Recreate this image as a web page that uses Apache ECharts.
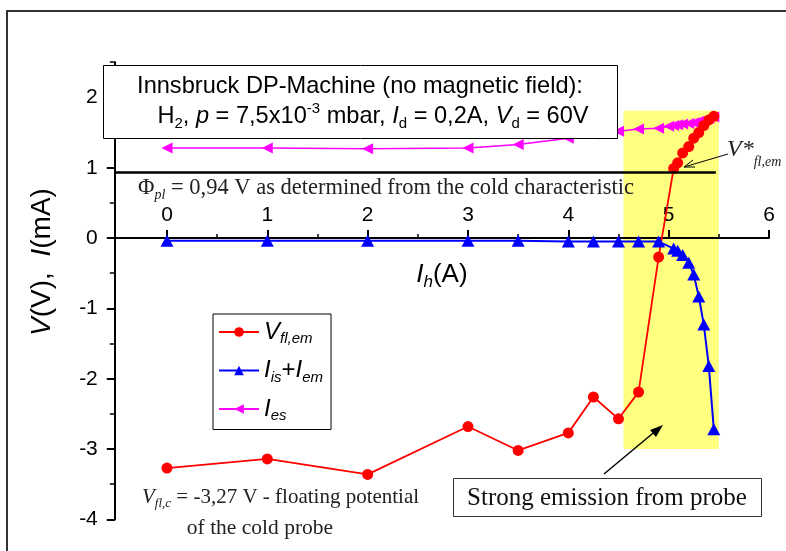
<!DOCTYPE html>
<html><head><meta charset="utf-8">
<script src="https://cdn.jsdelivr.net/npm/echarts@6/dist/echarts.min.js"></script>
<style>html,body{margin:0;padding:0;background:#fff}#c{width:786px;height:551px}</style>
</head><body><div id="c"></div>
<script>
// ---- data ----
const vflX = [0, 1, 2, 3, 3.5, 4, 4.25, 4.5, 4.7, 4.9, 5.05, 5.09, 5.14, 5.2, 5.25, 5.3, 5.35, 5.4, 5.45];
const vflY = [-3.27, -3.14, -3.36, -2.68, -3.02, -2.77, -2.26, -2.57, -2.19, -0.27, 0.99, 1.07, 1.21, 1.30, 1.42, 1.50, 1.60, 1.68, 1.73];
const iisX = [0, 1, 2, 3, 3.5, 4, 4.25, 4.5, 4.7, 4.9, 5.05, 5.09, 5.14, 5.2, 5.25, 5.3, 5.35, 5.4, 5.45];
const iisY = [-0.04, -0.04, -0.04, -0.04, -0.04, -0.05, -0.05, -0.05, -0.05, -0.05, -0.15, -0.18, -0.24, -0.35, -0.52, -0.83, -1.23, -1.82, -2.72];
const iesX = [0, 1, 2, 3, 3.5, 4, 4.25, 4.5, 4.7, 4.9, 5.0, 5.05, 5.09, 5.14, 5.2, 5.25, 5.3, 5.35, 5.4, 5.45];
const iesY = [1.28, 1.28, 1.27, 1.28, 1.33, 1.42, 1.48, 1.52, 1.55, 1.56, 1.59, 1.60, 1.61, 1.62, 1.63, 1.64, 1.66, 1.68, 1.70, 1.72];
const xTicks = [0, 1, 2, 3, 4, 5, 6];
const xMinorTicks = [0.5, 1.5, 2.5, 3.5, 4.5, 5.5];
const yTicks = [-4, -3, -2, -1, 0, 1, 2];
const yMinorTicks = [-3.5, -2.5, -1.5, -0.5, 0.5, 1.5, 2.5];
const xRange = [-0.52, 6];
const yRange = [-4, 2.5];
const phiPl = 0.94;
const phiLineX = [-0.52, 5.47];
const bandX = [4.55, 5.5];
const bandY = [-3.0, 1.81];

const zip = (a, b) => a.map((v, i) => [v, b[i]]);
const SANS = 'Liberation Sans, Arial, sans-serif';
const SERIF = 'Liberation Serif, Times New Roman, serif';

const chart = echarts.init(document.getElementById('c'), null, {renderer: 'canvas'});

const legendRich = {
  i: {fontFamily: SANS, fontStyle: 'italic', fontSize: 24, color: '#000'},
  s: {fontFamily: SANS, fontStyle: 'italic', fontSize: 15, color: '#000', padding: [14, 0, 0, 0]},
  n: {fontFamily: SANS, fontSize: 24, color: '#000'}
};
const legendNames = {
  Vfl: '{i|V}{s|fl,em}',
  Iis: '{i|I}{s|is}{n|+}{i|I}{s|em}',
  Ies: '{i|I}{s|es}'
};

const leftTri = 'path://M0,5 L10,0 L10,10 Z';

// layout of plot area (pixels)
const G = {left: 114.8, top: 62.2, width: 654.2, height: 457.2};
const pxPerY = G.height / (yRange[1] - yRange[0]);

const option = {
  animation: false,
  backgroundColor: '#fff',
  grid: [
    {left: G.left, top: G.top, width: G.width, height: G.height, outerBoundsMode: 'none', containLabel: false},
    {left: G.left, top: G.top, width: G.width, height: yRange[1] * pxPerY, outerBoundsMode: 'none', containLabel: false}
  ],
  xAxis: [{
    gridIndex: 0, type: 'value', min: xRange[0], max: xRange[1], show: false
  }, {
    gridIndex: 1, type: 'value', min: xRange[0], max: xRange[1], z: 3, position: 'bottom',
    axisLine: {show: false, onZero: false},
    axisTick: {show: true, inside: true, length: 4, customValues: xMinorTicks, lineStyle: {color: '#000', width: 1.5}},
    axisLabel: {show: false},
    splitLine: {show: false}
  }, {
    gridIndex: 1, type: 'value', min: xRange[0], max: xRange[1], z: 3, position: 'bottom',
    axisLine: {show: true, onZero: false, lineStyle: {color: '#000', width: 2}},
    axisTick: {show: true, inside: true, length: 8, customValues: xTicks, lineStyle: {color: '#000', width: 2}},
    axisLabel: {inside: true, customValues: xTicks, margin: 12, fontSize: 21, color: '#000', fontFamily: SANS},
    splitLine: {show: false},
    name: '{i|I}{s|h}{n|(A)}', nameLocation: 'middle', nameGap: 20,
    nameTextStyle: {rich: {
      i: {fontFamily: SANS, fontStyle: 'italic', fontSize: 26, color: '#000'},
      s: {fontFamily: SANS, fontStyle: 'italic', fontSize: 17, color: '#000', padding: [16, 0, 0, 0]},
      n: {fontFamily: SANS, fontSize: 26, color: '#000'}
    }}
  }],
  yAxis: [{
    gridIndex: 0, type: 'value', min: yRange[0], max: yRange[1], position: 'left', z: 3,
    axisLine: {show: true, onZero: false, lineStyle: {color: '#000', width: 2}},
    axisTick: {show: true, inside: false, length: 8, customValues: yTicks, lineStyle: {color: '#000', width: 2}},
    axisLabel: {customValues: yTicks, margin: 17, fontSize: 21, color: '#000', fontFamily: SANS},
    splitLine: {show: false}
  }, {
    gridIndex: 0, type: 'value', min: yRange[0], max: yRange[1], position: 'left', z: 3,
    axisLine: {show: false, onZero: false},
    axisTick: {show: true, inside: false, length: 5, customValues: yMinorTicks, lineStyle: {color: '#000', width: 1.5}},
    axisLabel: {show: false},
    splitLine: {show: false}
  }, {
    gridIndex: 1, type: 'value', min: 0, max: yRange[1], show: false
  }],
  legend: {
    left: 213, top: 314, orient: 'vertical',
    borderColor: '#000', borderWidth: 1, padding: [6, 8, 6, 5],
    itemWidth: 40, itemHeight: 12, itemGap: 12,
    data: ['Vfl', 'Iis', 'Ies'],
    formatter: n => legendNames[n],
    textStyle: {rich: legendRich}
  },
  series: [{
    type: 'line', name: 'band', data: [], z: 1, xAxisIndex: 0, yAxisIndex: 0,
    markArea: {silent: true, itemStyle: {color: '#ffff80'},
      data: [[{coord: [bandX[0], bandY[1]]}, {coord: [bandX[1], bandY[0]]}]]},
    markLine: {silent: true, symbol: ['none', 'none'], label: {show: false},
      lineStyle: {color: '#000', width: 2.5, type: 'solid'},
      data: [[{coord: [phiLineX[0], phiPl]}, {coord: [phiLineX[1], phiPl]}]]}
  }, {
    type: 'line', name: 'Ies', data: zip(iesX, iesY), z: 4, xAxisIndex: 0, yAxisIndex: 0,
    symbol: leftTri, symbolSize: [11, 11],
    lineStyle: {color: '#ff00ff', width: 1.5}, itemStyle: {color: '#ff00ff'}
  }, {
    type: 'line', name: 'Iis', data: zip(iisX, iisY), z: 4, xAxisIndex: 0, yAxisIndex: 0,
    symbol: 'triangle', symbolSize: [13, 12],
    lineStyle: {color: '#0000ff', width: 2}, itemStyle: {color: '#0000ff'}
  }, {
    type: 'line', name: 'Vfl', data: zip(vflX, vflY), z: 4, xAxisIndex: 0, yAxisIndex: 0,
    symbol: 'circle', symbolSize: 11,
    lineStyle: {color: '#ff0000', width: 1.8}, itemStyle: {color: '#ff0000'}
  }],
  graphic: [
    // outer frame (left and top)
    {type: 'polyline', z: 100, shape: {points: [[7, 551], [7, 11], [786, 11]]}, style: {stroke: '#333', lineWidth: 2, fill: null}},
    // title box
    {type: 'rect', z: 100, shape: {x: 103.5, y: 65.5, width: 514, height: 73}, style: {fill: '#fff', stroke: '#000', lineWidth: 1}},
    {type: 'text', z: 101, x: 360, y: 86, style: {text: 'Innsbruck DP-Machine (no magnetic field):', font: '23.6px ' + SANS, fill: '#000', align: 'center', verticalAlign: 'middle'}},
    {type: 'text', z: 101, x: 373, y: 116, style: {
      text: '{n|H}{s|2}{n|, }{i|p}{n| = 7,5x10}{u|-3}{n| mbar, }{i|I}{s|d}{n| = 0,2A, }{i|V}{s|d}{n| = 60V}',
      align: 'center', verticalAlign: 'middle', fill: '#000',
      rich: {
        n: {fontFamily: SANS, fontSize: 23.6, fill: '#000'},
        i: {fontFamily: SANS, fontStyle: 'italic', fontSize: 23.6, fill: '#000'},
        s: {fontFamily: SANS, fontSize: 15, fill: '#000', padding: [16, 0, 0, 0]},
        u: {fontFamily: SANS, fontSize: 15, fill: '#000', padding: [0, 0, 14, 0]}
      }}},
    // phi text
    {type: 'text', z: 101, x: 138, y: 188, style: {
      text: '{n|\u03a6}{s|pl}{n| = 0,94 V as determined from the cold characteristic}',
      align: 'left', verticalAlign: 'middle', fill: '#333',
      rich: {
        n: {fontFamily: SERIF, fontSize: 22.5, fill: '#222'},
        s: {fontFamily: SERIF, fontStyle: 'italic', fontSize: 14, fill: '#222', padding: [14, 0, 0, 0]}
      }}},
    // y axis name
    {type: 'text', z: 101, x: 42, y: 262, rotation: Math.PI / 2, style: {
      text: '{i|V}{n|(V),  }{i|I}{n|(mA)}', align: 'center', verticalAlign: 'middle',
      rich: {
        i: {fontFamily: SANS, fontStyle: 'italic', fontSize: 28, fill: '#000'},
        n: {fontFamily: SANS, fontSize: 28, fill: '#000'}
      }}},
    // V_fl,c annotation
    {type: 'text', z: 101, x: 142, y: 497, style: {
      text: '{i|V}{s|fl,c}{n| = -3,27 V - floating potential}',
      align: 'left', verticalAlign: 'middle',
      rich: {
        i: {fontFamily: SERIF, fontStyle: 'italic', fontSize: 21, fill: '#222'},
        n: {fontFamily: SERIF, fontSize: 21, fill: '#222'},
        s: {fontFamily: SERIF, fontStyle: 'italic', fontSize: 13, fill: '#222', padding: [14, 0, 0, 0]}
      }}},
    {type: 'text', z: 101, x: 260, y: 528, style: {text: 'of the cold probe', font: '21.5px ' + SERIF, fill: '#222', align: 'center', verticalAlign: 'middle'}},
    // strong emission box
    {type: 'rect', z: 100, shape: {x: 453.5, y: 478.5, width: 308, height: 38}, style: {fill: '#fff', stroke: '#333', lineWidth: 1}},
    {type: 'text', z: 101, x: 607, y: 498, style: {text: 'Strong emission from probe', font: '25px ' + SERIF, fill: '#111', align: 'center', verticalAlign: 'middle'}},
    {type: 'line', z: 101, shape: {x1: 604, y1: 474, x2: 658, y2: 429}, style: {stroke: '#000', lineWidth: 1.5}},
    {type: 'polygon', z: 101, shape: {points: [[663, 425], [650, 430], [656, 437]]}, style: {fill: '#000'}},
    // V* label and arrow
    {type: 'text', z: 101, x: 727, y: 150, style: {
      text: '{i|V*}{s|fl,em}', align: 'left', verticalAlign: 'middle',
      rich: {
        i: {fontFamily: SERIF, fontStyle: 'italic', fontSize: 24, fill: '#222'},
        s: {fontFamily: SERIF, fontStyle: 'italic', fontSize: 14, fill: '#222', padding: [24, 0, 0, 0]}
      }}},
    {type: 'line', z: 101, shape: {x1: 728, y1: 154, x2: 684, y2: 167}, style: {stroke: '#000', lineWidth: 1}},
    {type: 'polyline', z: 101, shape: {points: [[693, 160], [684, 167], [695, 167]]}, style: {stroke: '#000', lineWidth: 1, fill: null}}
  ]
};
chart.setOption(option);
</script>
</body></html>
